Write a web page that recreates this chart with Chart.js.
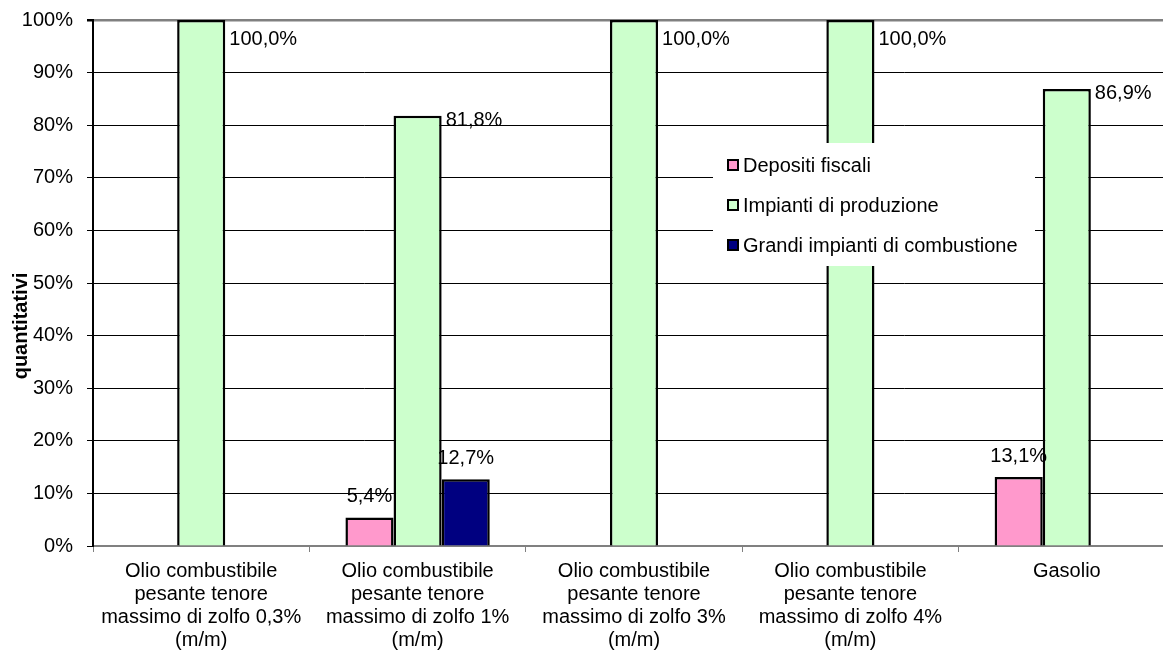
<!DOCTYPE html>
<html>
<head>
<meta charset="utf-8">
<script src="https://cdn.jsdelivr.net/npm/chart.js@4/dist/chart.umd.min.js"></script>
<style>
  html, body { margin: 0; padding: 0; background: #fff; overflow: hidden; }
  #wrap { width: 1163px; height: 652px; overflow: hidden; }
</style>
</head>
<body>
<div id="wrap"><canvas id="chart" width="1180" height="652"></canvas></div>
<script>
const categories = [
  ['Olio combustibile', 'pesante tenore', 'massimo di zolfo 0,3%', '(m/m)'],
  ['Olio combustibile', 'pesante tenore', 'massimo di zolfo 1%', '(m/m)'],
  ['Olio combustibile', 'pesante tenore', 'massimo di zolfo 3%', '(m/m)'],
  ['Olio combustibile', 'pesante tenore', 'massimo di zolfo 4%', '(m/m)'],
  'Gasolio'
];
const seriesNames = ['Depositi fiscali', 'Impianti di produzione', 'Grandi impianti di combustione'];
const depositiFiscali = [null, 5.4, null, null, 13.1];
const impiantiProduzione = [100, 81.8, 100, 100, 86.9];
const grandiImpianti = [null, 12.7, null, null, null];
const yTicks = [0, 10, 20, 30, 40, 50, 60, 70, 80, 90, 100];
const yTitle = 'quantitativi';

const colors = ['#FF99CC', '#CCFFCC', '#000080'];
const FONT = '"Liberation Sans", Arial, sans-serif';

// value labels, placed next to / above the bars like the Excel original
const valueLabels = {
  id: 'valueLabels',
  afterDatasetsDraw(chart) {
    const ctx = chart.ctx;
    const top = chart.chartArea.top;
    ctx.save();
    ctx.font = '20px ' + FONT;
    ctx.fillStyle = '#000';
    chart.data.datasets.forEach((ds, i) => {
      chart.getDatasetMeta(i).data.forEach((bar, j) => {
        const v = ds.data[j];
        if (v == null) return;
        const text = v.toFixed(1).replace('.', ',') + '%';
        if (v > 50) {
          ctx.textAlign = 'left';
          ctx.textBaseline = 'middle';
          ctx.fillText(text, bar.x + bar.width / 2 + 4, Math.max(bar.y + 5, top + 19));
        } else {
          ctx.textAlign = 'center';
          ctx.textBaseline = 'bottom';
          ctx.fillText(text, bar.x, bar.y - 11);
        }
      });
    });
    ctx.restore();
  }
};

// legend box sitting inside the plot area, with white background
const boxLegend = {
  id: 'boxLegend',
  afterDraw(chart) {
    const ctx = chart.ctx;
    ctx.save();
    ctx.fillStyle = '#fff';
    ctx.fillRect(713, 143, 322, 123);
    ctx.font = '20px ' + FONT;
    ctx.textAlign = 'left';
    ctx.textBaseline = 'middle';
    chart.data.datasets.forEach((ds, i) => {
      const y = 165 + i * 40;
      ctx.fillStyle = ds.backgroundColor;
      ctx.fillRect(728, y - 5, 10, 10);
      ctx.lineWidth = 2;
      ctx.strokeStyle = '#000';
      ctx.strokeRect(728, y - 5, 10, 10);
      ctx.fillStyle = '#000';
      ctx.fillText(ds.label, 743, y + 1);
    });
    // y axis title
    ctx.translate(21, 326);
    ctx.rotate(-Math.PI / 2);
    ctx.font = 'bold 20px ' + FONT;
    ctx.textAlign = 'center';
    ctx.textBaseline = 'middle';
    ctx.fillText(yTitle, 0, 0);
    ctx.restore();
  }
};

const seriesData = [depositiFiscali, impiantiProduzione, grandiImpianti];

new Chart(document.getElementById('chart'), {
  type: 'bar',
  data: {
    labels: categories,
    datasets: seriesNames.map((name, i) => ({
      label: name,
      data: seriesData[i],
      backgroundColor: colors[i],
      borderColor: '#000',
      borderWidth: 2.5,
      categoryPercentage: 0.667,
      barPercentage: 1
    }))
  },
  options: {
    responsive: false,
    animation: false,
    layout: { padding: { top: 20, right: 5, left: 0, bottom: 0 } },
    plugins: {
      legend: { display: false },
      tooltip: { enabled: false }
    },
    scales: {
      x: {
        grid: {
          drawOnChartArea: false,
          drawTicks: true,
          tickLength: 6,
          color: '#808080',
          offset: true
        },
        border: { color: '#808080', width: 2 },
        ticks: {
          color: '#000',
          font: { family: FONT, size: 20, lineHeight: 1.15 },
          padding: 8,
          maxRotation: 0,
          autoSkip: false
        },
        afterFit(scale) { scale.height = 106; scale.paddingLeft = 0; scale.paddingRight = 0; }
      },
      y: {
        min: 0,
        max: 100,
        afterBuildTicks(scale) { scale.ticks = yTicks.map(v => ({ value: v })); },
        grid: {
          color: ctx => (ctx.tick && (ctx.tick.value === 100 || ctx.tick.value === 0)) ? '#808080' : '#000',
          lineWidth: ctx => (ctx.tick && ctx.tick.value === 100) ? 2.5 : 1,
          tickColor: '#000',
          tickLength: 6
        },
        border: { color: '#000', width: 2 },
        ticks: {
          color: '#000',
          font: { family: FONT, size: 20 },
          padding: 14,
          callback: v => v + '%'
        },
        afterFit(scale) { scale.width = 93; scale.paddingTop = 0; scale.paddingBottom = 0; }
      }
    }
  },
  plugins: [valueLabels, boxLegend]
});
</script>
</body>
</html>
